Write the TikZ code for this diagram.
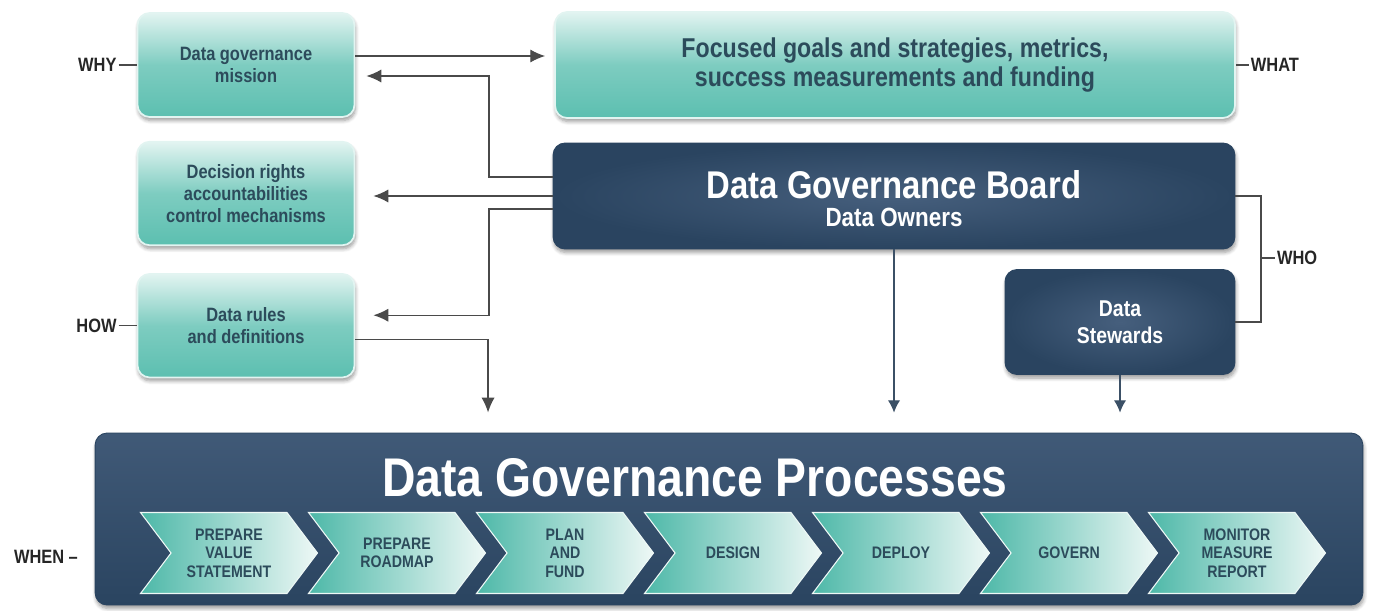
\documentclass[tikz,border=0pt]{standalone}
\usepackage{fontspec}
\setmainfont[FakeStretch=0.85]{Liberation Sans}
\usepackage{xcolor}
\usepackage{tikz}
\usetikzlibrary{shadows.blur}
\usetikzlibrary{shapes}
\usetikzlibrary{arrows.meta, positioning}

\definecolor{tealtop}{HTML}{E2F4F1}
\definecolor{tealbot}{HTML}{5CBFB0}
\definecolor{tealtxt}{HTML}{2C4B5B}
\definecolor{navy}{HTML}{2A4460}
\definecolor{navymid}{HTML}{465F7D}
\definecolor{linegray}{HTML}{4A4A4A}
\definecolor{chevteal}{HTML}{4DB8A8}
\definecolor{chevlight}{HTML}{EEF8F6}

\tikzset{
  tealbox/.style={draw=tealtop, line width=1pt, rounded corners=0.24cm,
    top color=tealtop, bottom color=tealbot, middle color=tealbot!75!tealtop,
    text=tealtxt, align=center,
    font=\bfseries\fontsize{11}{12.5}\selectfont,
    blur shadow={shadow xshift=0.5pt, shadow yshift=-2pt, shadow blur steps=6}},
  navybox/.style={draw=navy, line width=0.5pt, rounded corners=0.24cm,
    inner color=navymid, outer color=navy, text=white, align=center,
    blur shadow={shadow xshift=0.5pt, shadow yshift=-2pt, shadow blur steps=6}},
  chev/.style={signal, signal from=west, signal to=east, signal pointer angle=106,
    draw=chevlight, line width=0.6pt, left color=chevteal, right color=chevlight,
    minimum width=3.54cm, minimum height=1.62cm, inner sep=1pt,
    text=tealtxt, align=center, font=\bfseries\fontsize{9.5}{10.5}\selectfont},
  tag/.style={text=black!85, inner sep=1pt, font=\bfseries\fontsize{11}{12}\selectfont},
  tagline/.style={draw=linegray, line width=0.6pt},
  arr/.style={draw=linegray, line width=0.8pt, -{Latex[length=8.5pt,width=7.5pt]}},
  downarr/.style={draw=navy!80!gray, line width=0.7pt, -{Latex[length=7pt,width=7pt]}}
}

\begin{document}
\begin{tikzpicture}[x=0.02cm, y=-0.02cm]
    \useasboundingbox (0,0) rectangle (1375,611);

    % left column
    \node (mission) [tealbox, minimum width=4.34cm, minimum height=2.08cm] at (246,65) {Data governance\\mission};
    \node (decision) [tealbox, minimum width=4.34cm, minimum height=2.07cm, below=0.46cm of mission] {Decision rights\\accountabilities\\control mechanisms};
    \node (rules) [tealbox, minimum width=4.34cm, minimum height=2.07cm, below=0.54cm of decision] {Data rules\\and definitions};

    % right column
    \node (what) [tealbox, minimum width=13.6cm, minimum height=2.12cm,
        font=\bfseries\fontsize{15.5}{17}\selectfont] at (895,65)
        {Focused goals and strategies, metrics,\\success measurements and funding};
    \node (board) [navybox, minimum width=13.64cm, minimum height=2.12cm] at (894,196) {};
    \node (boardttl) [text=white, font=\bfseries\fontsize{22}{24}\selectfont] at (894,185) {Data Governance Board};
    \node (owners) [text=white, font=\bfseries\fontsize{15}{16}\selectfont, below=-2pt of boardttl] {Data Owners};
    \node (stewards) [navybox, minimum width=4.6cm, minimum height=2.1cm,
        font=\bfseries\fontsize{13}{15.5}\selectfont] at (1120,322) {Data\\Stewards};

    % processes
    \node (procs) [navybox, minimum width=25.36cm, minimum height=3.44cm,
        top color=navymid!80!navy, bottom color=navy] at (729,519) {};
    \node (ptitle) [text=white, font=\bfseries\fontsize{31}{33}\selectfont] at (695,478) {Data Governance Processes};
    \node (p1) [chev] at (229,553) {PREPARE\\VALUE\\STATEMENT};
    \node (p2) [chev] at (397,553) {PREPARE\\ROADMAP};
    \node (p3) [chev] at (565,553) {PLAN\\AND\\FUND};
    \node (p4) [chev] at (733,553) {DESIGN};
    \node (p5) [chev] at (901,553) {DEPLOY};
    \node (p6) [chev] at (1069,553) {GOVERN};
    \node (p7) [chev] at (1237,553) {MONITOR\\MEASURE\\REPORT};

    % side tags
    \node (why) [tag, left=0.36cm of mission] {WHY};
    \node (how) [tag, left=0.36cm of rules] {HOW};
    \node (whatlbl) [tag, right=0.26cm of what] {WHAT};
    \node (when) [tag, anchor=east] at (80,557) {WHEN --};
    \coordinate (whojoin) at (1261,258);
    \node (who) [tag, anchor=west] at (1275,258) {WHO};
    \draw[tagline] (why) -- (mission);
    \draw[tagline] (how) -- (rules);
    \draw[tagline] (what) -- (whatlbl);
    \draw[tagline] (board.east) -| (whojoin) |- (stewards.east);
    \draw[tagline] (whojoin) -- (who.west);

    % connectors
    \draw[arr, shorten >=0.18cm] ([yshift=0.18cm]mission.east) -- ([yshift=0.18cm]what.west);
    \draw[arr, shorten >=0.22cm] ([yshift=0.38cm]board.west) -- ++(-1.27cm,0) |- ([yshift=-0.22cm]mission.east);
    \draw[arr, shorten >=0.36cm] (board.west) -- (board.west -| decision.east);
    \draw[arr, shorten >=0.36cm] ([yshift=-0.26cm]board.west) -- ++(-1.27cm,0) |- ([yshift=0.21cm]rules.east);
    \draw[arr, shorten >=0.4cm] ([yshift=-0.27cm]rules.east) -| ([xshift=-4.82cm]procs.north);
    \draw[downarr, shorten >=0.4cm] (board.south) -- (board.south |- procs.north);
    \draw[downarr, shorten >=0.4cm] (stewards.south) -- (stewards.south |- procs.north);
\end{tikzpicture}
\end{document}
